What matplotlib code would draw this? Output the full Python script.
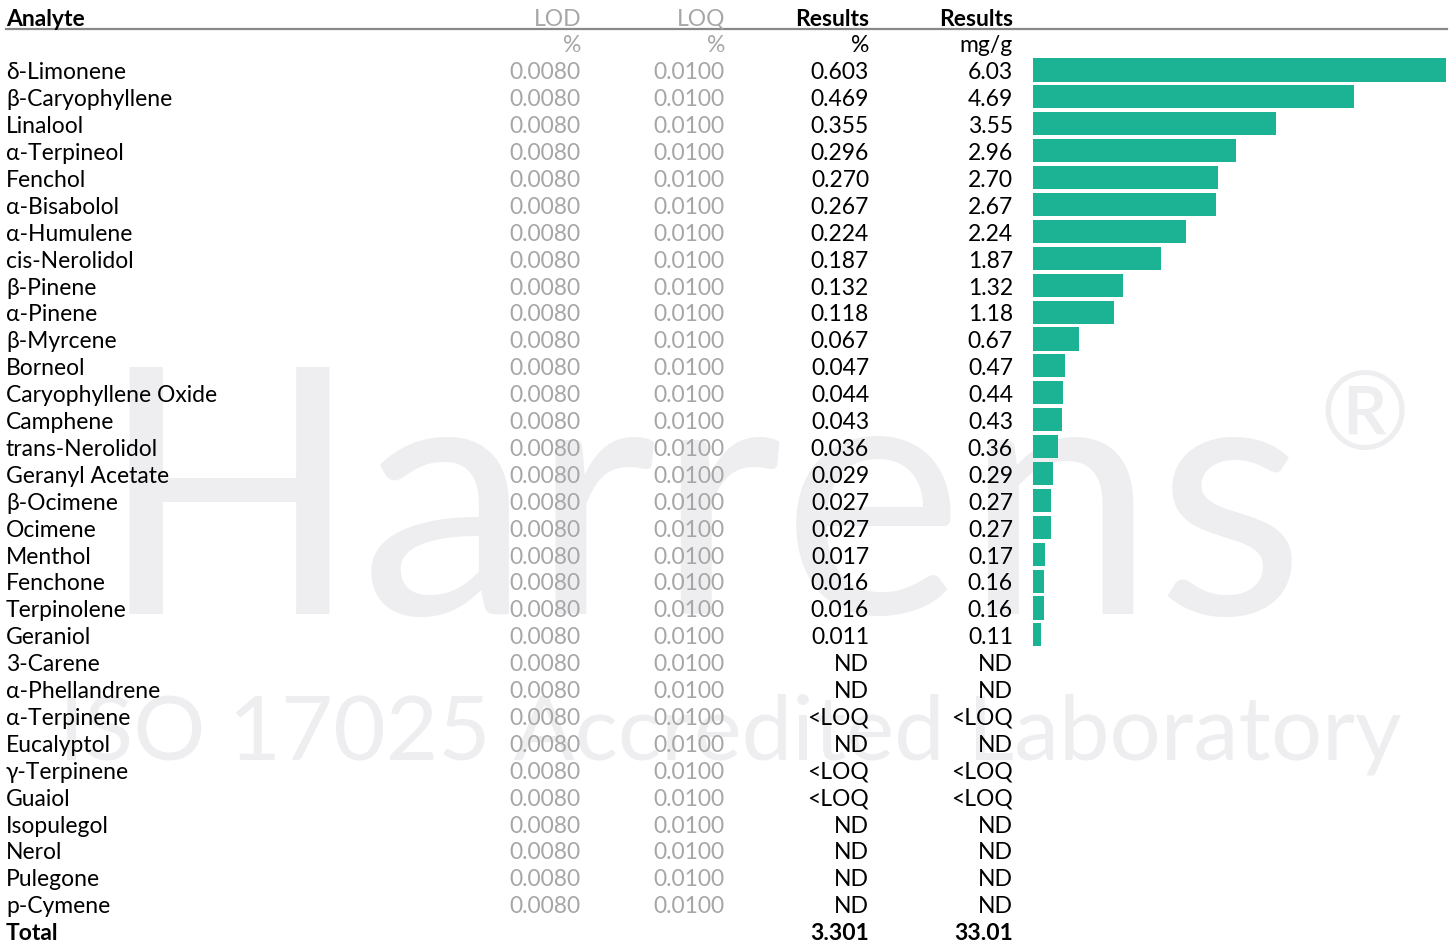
import numpy as np
import matplotlib
matplotlib.use('Agg')
from matplotlib import pyplot as plt

analytes = ['δ-Limonene', 'β-Caryophyllene', 'Linalool', 'α-Terpineol', 'Fenchol',
            'α-Bisabolol', 'α-Humulene', 'cis-Nerolidol', 'β-Pinene', 'α-Pinene',
            'β-Myrcene', 'Borneol', 'Caryophyllene Oxide', 'Camphene', 'trans-Nerolidol',
            'Geranyl Acetate', 'β-Ocimene', 'Ocimene', 'Menthol', 'Fenchone',
            'Terpinolene', 'Geraniol', '3-Carene', 'α-Phellandrene', 'α-Terpinene',
            'Eucalyptol', 'γ-Terpinene', 'Guaiol', 'Isopulegol', 'Nerol', 'Pulegone',
            'p-Cymene']
lod = ['0.0080'] * len(analytes)
loq = ['0.0100'] * len(analytes)
res_pct = ['0.603', '0.469', '0.355', '0.296', '0.270', '0.267', '0.224', '0.187',
           '0.132', '0.118', '0.067', '0.047', '0.044', '0.043', '0.036', '0.029',
           '0.027', '0.027', '0.017', '0.016', '0.016', '0.011', 'ND', 'ND', '<LOQ',
           'ND', '<LOQ', '<LOQ', 'ND', 'ND', 'ND', 'ND']
res_mg = ['6.03', '4.69', '3.55', '2.96', '2.70', '2.67', '2.24', '1.87', '1.32',
          '1.18', '0.67', '0.47', '0.44', '0.43', '0.36', '0.29', '0.27', '0.27',
          '0.17', '0.16', '0.16', '0.11', 'ND', 'ND', '<LOQ', 'ND', '<LOQ', '<LOQ',
          'ND', 'ND', 'ND', 'ND']
total_pct = '3.301'
total_mg = '33.01'

bar_vals = []
for v in res_mg:
    try:
        bar_vals.append(float(v))
    except ValueError:
        bar_vals.append(0.0)

W, H = 1454, 945
row0, step = 71, 26.9
ylo = -row0 / step
yhi = (H - row0) / step

FONT = ['Lato', 'DejaVu Sans']
fs = 16.5
grey = '#a6a6a6'
teal = '#1cb394'
wm = '#eeeef1'
dy = 0.07  # small nudge so the text sits centred on the bar rows

fig = plt.figure(figsize=(W / 100, H / 100), dpi=100)
ax = fig.add_axes([0, 0, 1, 1])
ax.set_xlim(0, W)
ax.set_ylim(yhi, ylo)
ax.axis('off')

# watermark
ax.text(702, 20.2, 'Harrens', fontsize=248, color=wm, family=FONT, ha='center',
        va='baseline', zorder=0)
ax.text(730, 25.6, 'ISO 17025 Accredited Laboratory', fontsize=65, color=wm,
        family=FONT, ha='center', va='baseline', zorder=0)
ax.text(1365, 12.9, '®', fontsize=78, color=wm, family=FONT, ha='center',
        va='center', zorder=0)

# header
col_x = [6, 581, 725, 869, 1013]
ax.text(col_x[0], -2 + dy, 'Analyte', fontsize=fs, weight='bold', family=FONT, va='center')
ax.text(col_x[1], -2 + dy, 'LOD', fontsize=fs, color=grey, family=FONT, va='center', ha='right')
ax.text(col_x[2], -2 + dy, 'LOQ', fontsize=fs, color=grey, family=FONT, va='center', ha='right')
ax.text(col_x[3], -2 + dy, 'Results', fontsize=fs, weight='bold', family=FONT, va='center', ha='right')
ax.text(col_x[4], -2 + dy, 'Results', fontsize=fs, weight='bold', family=FONT, va='center', ha='right')
ax.plot([6, 1447], [-1.52, -1.52], color='#888888', lw=1.6)
ax.text(col_x[1], -1 + dy, '%', fontsize=fs, color=grey, family=FONT, va='center', ha='right')
ax.text(col_x[2], -1 + dy, '%', fontsize=fs, color=grey, family=FONT, va='center', ha='right')
ax.text(col_x[3], -1 + dy, '%', fontsize=fs, family=FONT, va='center', ha='right')
ax.text(col_x[4], -1 + dy, 'mg/g', fontsize=fs, family=FONT, va='center', ha='right')

for i, name in enumerate(analytes):
    y = i + dy
    ax.text(col_x[0], y, name, fontsize=fs, family=FONT, va='center')
    ax.text(col_x[1], y, lod[i], fontsize=fs, color=grey, family=FONT, va='center', ha='right')
    ax.text(col_x[2], y, loq[i], fontsize=fs, color=grey, family=FONT, va='center', ha='right')
    ax.text(col_x[3], y, res_pct[i], fontsize=fs, family=FONT, va='center', ha='right')
    ax.text(col_x[4], y, res_mg[i], fontsize=fs, family=FONT, va='center', ha='right')

n = len(analytes)
ax.text(col_x[0], n + dy, 'Total', fontsize=fs, weight='bold', family=FONT, va='center')
ax.text(col_x[3], n + dy, total_pct, fontsize=fs, weight='bold', family=FONT, va='center', ha='right')
ax.text(col_x[4], n + dy, total_mg, fontsize=fs, weight='bold', family=FONT, va='center', ha='right')

# bars
bx = fig.add_axes([1033 / W, 0, 413 / W, 1])
bx.set_xlim(0, max(bar_vals))
bx.set_ylim(yhi, ylo)
bx.axis('off')
bx.patch.set_alpha(0)
bx.barh(np.arange(n), bar_vals, height=0.86, color=teal)

fig.savefig('out.png', dpi=100)
